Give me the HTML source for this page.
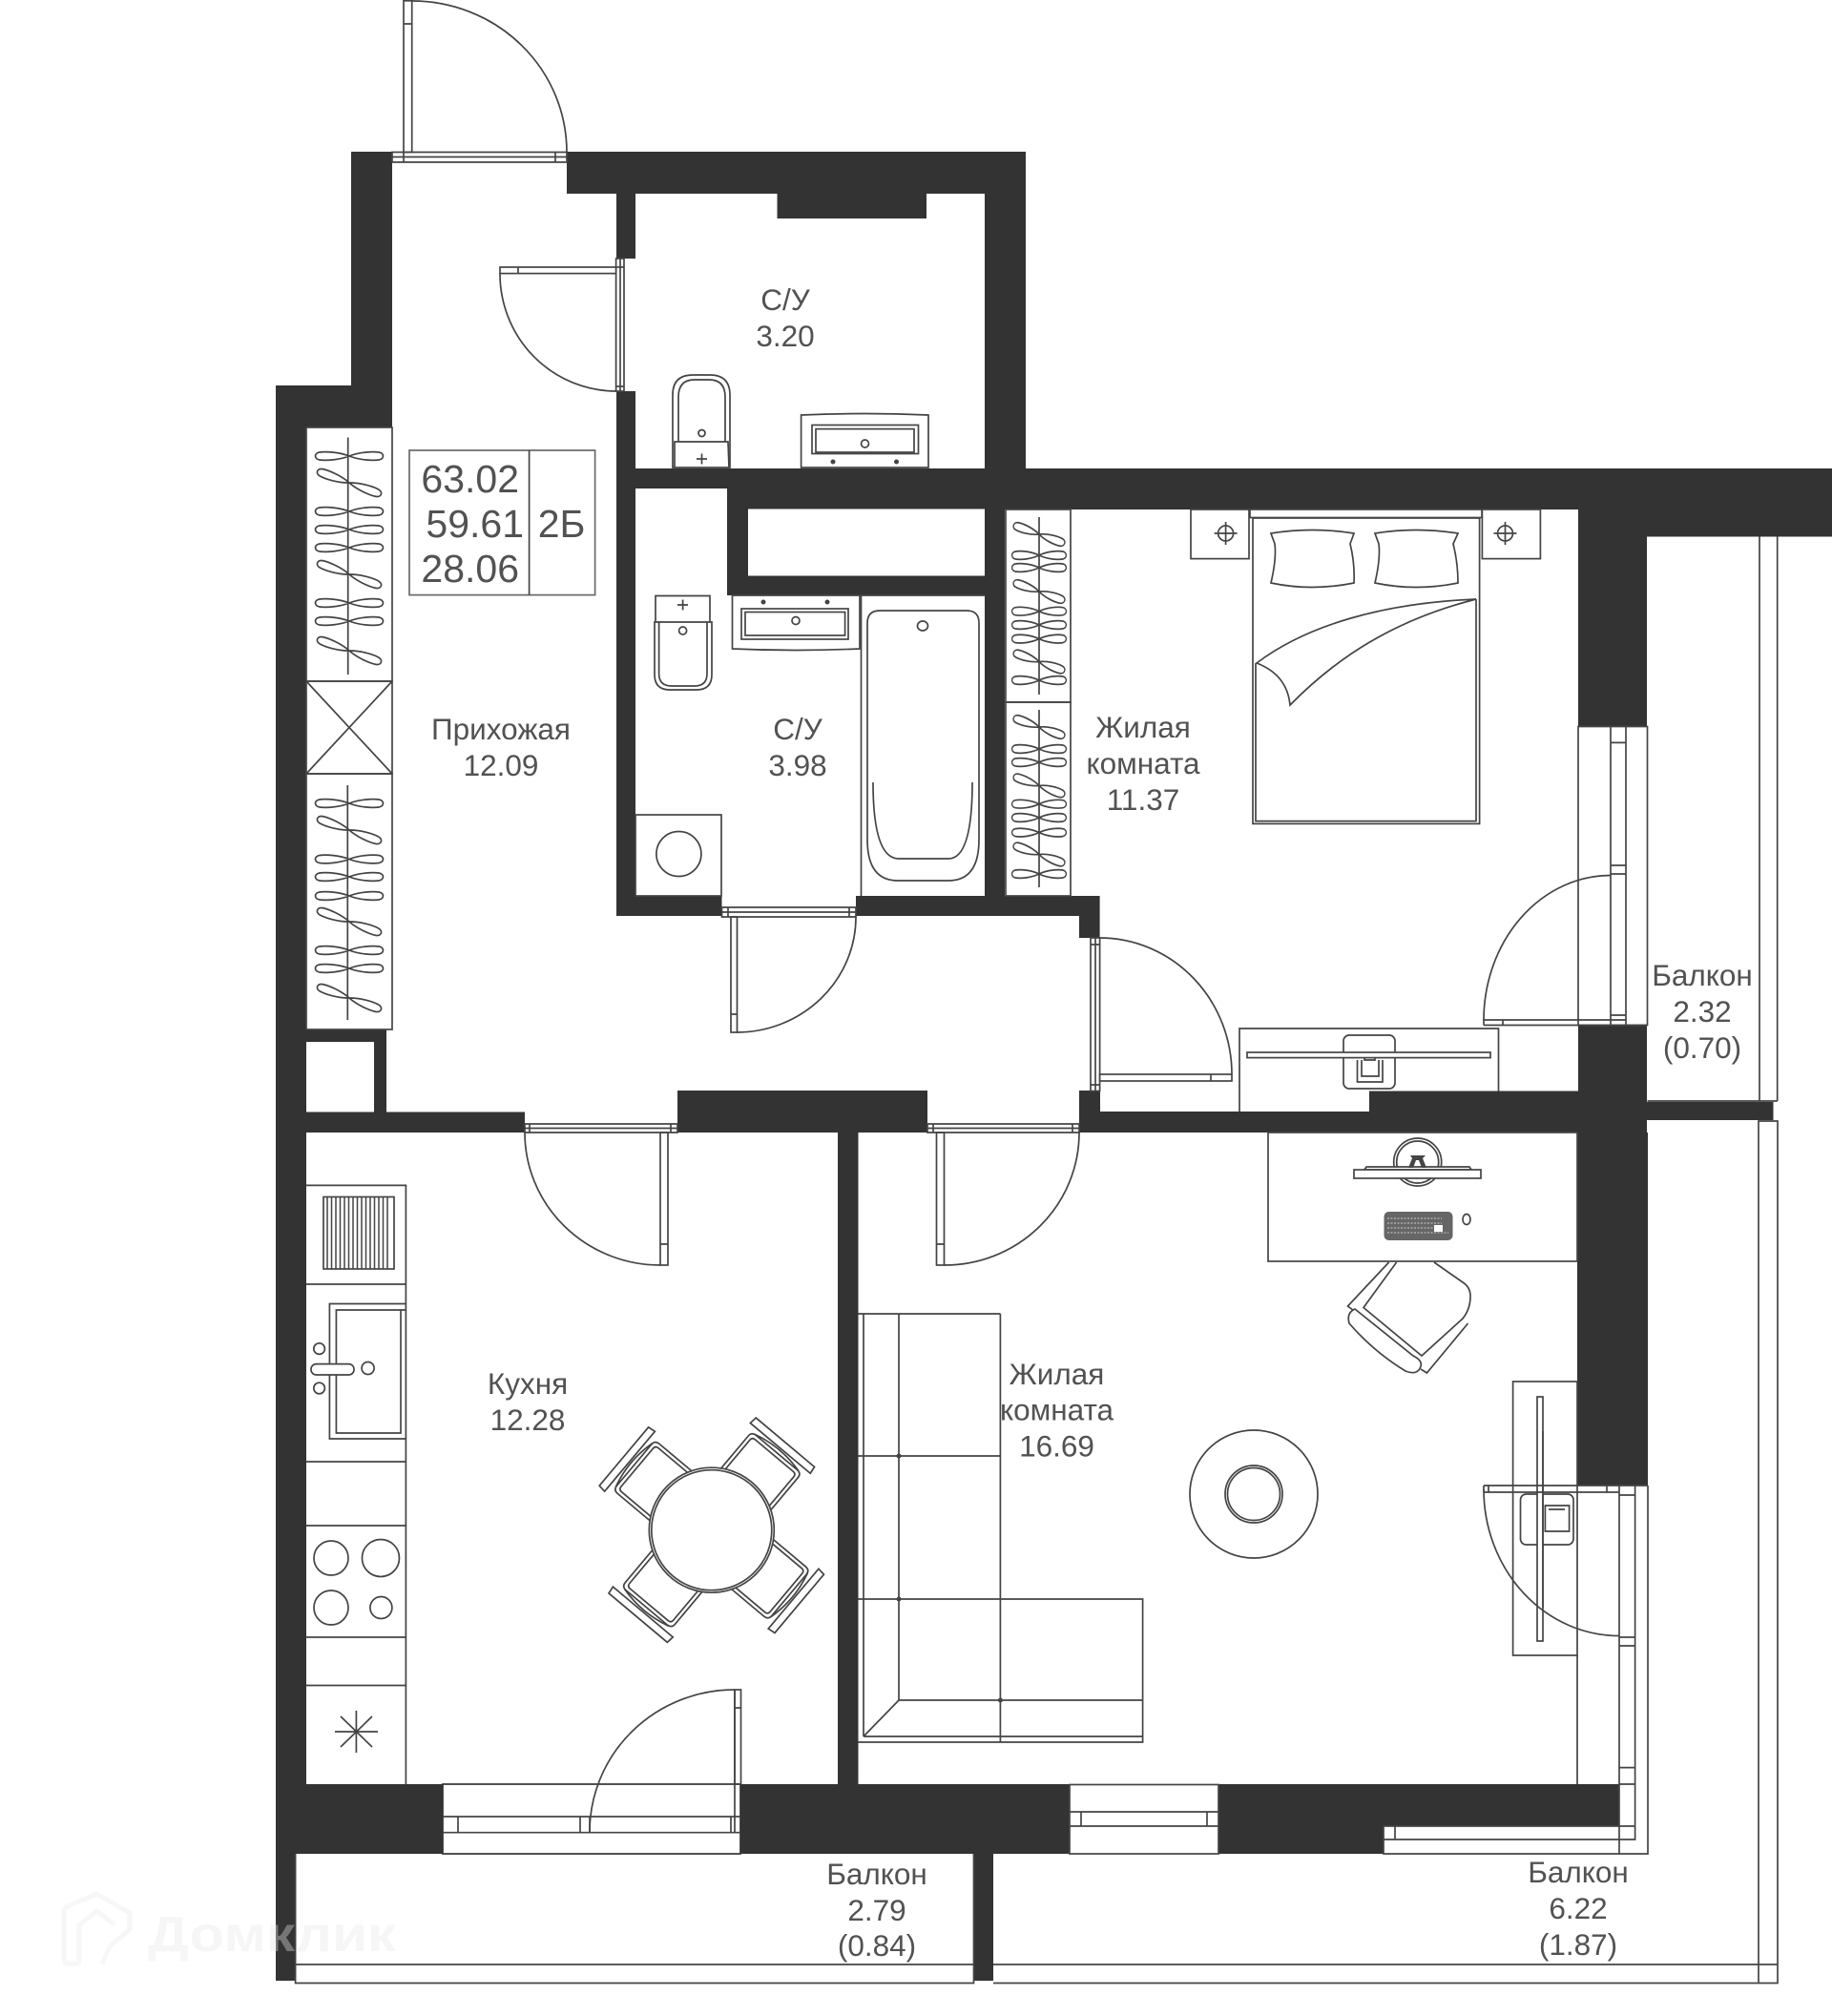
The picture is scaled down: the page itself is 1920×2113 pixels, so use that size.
<!DOCTYPE html>
<html><head><meta charset="utf-8"><title>План квартиры</title>
<style>
html,body{margin:0;padding:0;background:#fff}
svg{display:block}
text{font-family:"Liberation Sans","Noto Sans CJK SC",sans-serif;fill:#525252;text-anchor:middle;font-size:31.5px}
.w{fill:#333;stroke:none}
.l{fill:none;stroke:#444;stroke-width:1.7}
.f{fill:#fff;stroke:#444;stroke-width:1.7}
</style></head><body>
<svg width="1920" height="2113" viewBox="0 0 1920 2113" xmlns="http://www.w3.org/2000/svg">
<defs>
<path id="h" d="M0 0C-10-4-24-5-31-4C-37-3-37 3-31 4C-24 5-10 4 0 0C10-4 24-5 31-4C37-3 37 3 31 4C24 5 10 4 0 0Z" fill="none" stroke="#444" stroke-width="1.700"/>
<g id="chair">
<path class="f" d="M-34 -40V-100Q-34 -106 -28 -106H28Q34 -106 34 -100V-40Z"/>
<path class="l" d="M-30 -40V-98Q-30 -102 -26 -102H26Q30 -102 30 -98V-40"/>
<path class="f" d="M-41 -112L41 -112L40 -120L-40 -120Z"/>
<path class="l" d="M-30 -106Q0 -114 30 -106"/>
</g>
<g id="crossh"><circle r="8" class="l"/><path class="l" d="M-12 0H12M0-12V12"/></g>
</defs>
<rect width="1920" height="2113" fill="#fff"/>

<!-- walls -->
<g class="w">
<path d="M368 159H411V448H321V1079H289V404H368Z"/>
<path d="M594 159H1075V491H1032V203H971V229H814.500V203H666V271H646V203H594Z"/>
<rect x="646" y="410" width="20" height="550"/>
<rect x="646" y="491" width="1274" height="21"/>
<path fill-rule="evenodd" d="M762 512H1920V534H1053V624H762ZM784 533.500V603.500H1032V533.500Z"/>
<rect x="1032" y="534" width="21" height="425"/>
<rect x="1654" y="534" width="72" height="227.500"/>
<rect x="1654" y="534" width="266" height="28.500"/>
<rect x="646" y="939" width="110.500" height="21"/>
<path d="M897 939H1152.600V983H1131V960H897Z"/>
<rect x="1654" y="1074.500" width="72" height="69"/>
<path d="M1435 1143.500H1726V1155H1858.500V1174H1726V1187H1132V1143.500H1153V1165H1435Z"/>
<rect x="1131" y="1143" width="21.600" height="44"/>
<path d="M289 1079H405V1165.500H550V1187H321V1870H464V1943H310V2076H289ZM321 1092V1165.500H392V1092Z" fill-rule="evenodd"/>
<path d="M710 1143H972V1187H899.500V1870H1121V1943H1041V2076H1020.500V1943H776V1870H878V1187H710Z"/>
<path d="M1277 1870H1653V1187H1727V1557H1653V1870H1697V1914H1450V1943H1277Z"/>
</g>

<!-- Entrance door -->
<path class="l" d="M411 159.500H594V170H411ZM411 164.500H594M423 159.500V170M582 159.500V170"/>
<rect x="423" y="0.800" width="8.700" height="158.700" class="l"/>
<path class="l" d="M423 25H431.700M431.700 1A162 158.500 0 0 1 594 159.500"/>

<!-- WC upper door -->
<rect x="645.600" y="271" width="8.400" height="139" class="f"/>
<path class="l" d="M650 271V410M645.600 280H654M645.600 405H654"/>
<rect x="524" y="280" width="121.600" height="6.600" class="f"/>
<path class="l" d="M543 280V286.600M524 286.600A122 123 0 0 0 645.600 410"/>

<!-- WC upper fixtures -->
<path class="f" d="M705 490V414Q705 393 726 393H744Q765 393 765 414V490Z"/>
<path class="l" d="M711 463V416Q711 398 728 398H743Q760 398 760 416V463M707 490V463H763L764 490"/>
<circle cx="735.500" cy="454" r="3.500" class="l"/><path class="l" d="M730 481H741M735.500 475.500V486.500"/>
<path class="f" d="M839.600 490V435Q906 432 973 435V490Z"/>
<rect x="851" y="445.500" width="111.500" height="30" class="l"/><rect x="855" y="449.600" width="103" height="24.400" class="l"/>
<circle cx="906.500" cy="465" r="4" class="l"/><circle cx="873" cy="484" r="2.500" fill="#444"/><circle cx="939.500" cy="484" r="2.500" fill="#444"/>

<!-- Info table -->
<rect x="429" y="472" width="194.600" height="151.600" class="l" stroke-opacity=".8"/><path class="l" d="M554.600 472V623.600"/>
<text x="544" y="516" style="text-anchor:end;font-size:41px">63.02</text>
<text x="549" y="563" style="text-anchor:end;font-size:41px">59.61</text>
<text x="544" y="610" style="text-anchor:end;font-size:41px">28.06</text>
<text x="588.600" y="563" style="font-size:41px">2Б</text>

<!-- Left wardrobes -->
<rect x="321" y="448" width="90" height="266" class="l"/>
<rect x="321" y="714" width="90" height="97" class="l"/>
<path class="l" d="M321 714L411 811M411 714L321 811"/>
<rect x="321" y="811" width="90" height="268" class="l"/>
<path class="l" d="M364.700 458.500V707M364.300 823V1069"/>
<use href="#h" transform="translate(366 478)"/><use href="#h" transform="translate(366 506) rotate(20)"/><use href="#h" transform="translate(366 536)"/><use href="#h" transform="translate(366 555)"/><use href="#h" transform="translate(366 574)"/><use href="#h" transform="translate(366 602) rotate(20)"/><use href="#h" transform="translate(366 632)"/><use href="#h" transform="translate(366 651)"/><use href="#h" transform="translate(366 682) rotate(20)"/>
<use href="#h" transform="translate(366 842)"/><use href="#h" transform="translate(366 870) rotate(20)"/><use href="#h" transform="translate(366 900.500)"/><use href="#h" transform="translate(366 919)"/><use href="#h" transform="translate(366 939)"/><use href="#h" transform="translate(366 966) rotate(20)"/><use href="#h" transform="translate(366 996)"/><use href="#h" transform="translate(366 1015)"/><use href="#h" transform="translate(366 1046) rotate(20)"/>

<!-- Right wardrobes -->
<rect x="1054" y="534" width="68" height="202" class="l"/>
<rect x="1054" y="736" width="68" height="203" class="l"/>
<path class="l" d="M1089 542V728M1089 744V930"/>
<g>
<use href="#h" transform="translate(1089 560) rotate(20) scale(.8 1)"/><use href="#h" transform="translate(1089 582) scale(.8 1)"/><use href="#h" transform="translate(1089 595) scale(.8 1)"/><use href="#h" transform="translate(1089 620) rotate(20) scale(.8 1)"/><use href="#h" transform="translate(1089 640.700) scale(.8 1)"/><use href="#h" transform="translate(1089 655) scale(.8 1)"/><use href="#h" transform="translate(1089 669.600) scale(.8 1)"/><use href="#h" transform="translate(1089 693.500) rotate(20) scale(.8 1)"/><use href="#h" transform="translate(1089 713) scale(.8 1)"/>
<use href="#h" transform="translate(1089 762) rotate(20) scale(.8 1)"/><use href="#h" transform="translate(1089 785) scale(.8 1)"/><use href="#h" transform="translate(1089 799) scale(.8 1)"/><use href="#h" transform="translate(1089 823.400) rotate(20) scale(.8 1)"/><use href="#h" transform="translate(1089 842.700) scale(.8 1)"/><use href="#h" transform="translate(1089 857) scale(.8 1)"/><use href="#h" transform="translate(1089 872.600) scale(.8 1)"/><use href="#h" transform="translate(1089 895.500) rotate(20) scale(.8 1)"/><use href="#h" transform="translate(1089 916) scale(.8 1)"/>
</g>

<!-- WC lower fixtures -->
<path class="f" d="M687 652V624.500H744V652"/>
<path class="f" d="M686 652H746V707Q746 723 730 723H702Q686 723 686 707Z"/>
<path class="l" d="M690.600 652V706Q690.600 719 704 719H728Q741 719 741 706V652"/>
<circle cx="715.600" cy="661" r="4" class="l"/><path class="l" d="M710 634H721M715.600 628.500V639.500"/>
<path class="f" d="M767.500 624H901V680Q834 683 767.500 680Z"/>
<rect x="777" y="638" width="112" height="32" class="l"/><rect x="781" y="641.500" width="104.600" height="24.500" class="l"/>
<circle cx="834" cy="650.500" r="4" class="l"/><circle cx="800" cy="631" r="2.500" fill="#444"/><circle cx="867" cy="631" r="2.500" fill="#444"/>
<rect x="666" y="854" width="90" height="85" class="l"/><circle cx="711.400" cy="895" r="23.500" class="l"/>
<!-- bath -->
<path class="l" d="M902.500 624V939M1032 624H902.500"/>
<path class="l" d="M909 653Q909 640 922 640H1013Q1026 640 1026 653V880Q1026 923 994 923H941Q909 923 909 880Z"/>
<path class="l" d="M915 820Q915 900 942 900H994Q1019 900 1019 820"/>
<ellipse cx="967" cy="656" rx="5.500" ry="5" class="l"/>

<!-- WC lower door -->
<path class="l" d="M756.500 951H897V961H756.500ZM756.500 956H897M763 951V961M890 951V961"/>
<rect x="766" y="961" width="6.500" height="121" class="l"/>
<path class="l" d="M766 1063H772.500M772.500 1082A125 121 0 0 0 897 961"/>

<!-- Hall to kitchen door -->
<path class="l" d="M550 1178H710V1187H550ZM550 1182.500H710M555 1178V1187M703 1178V1187"/>
<rect x="692" y="1187" width="8" height="139" class="l"/>
<path class="l" d="M692 1304H700M692 1326A142 139 0 0 1 550 1187"/>

<!-- Room door -->
<path class="l" d="M972 1178H1131V1187H972ZM972 1182.500H1131M978 1178V1187M1124 1178V1187"/>
<rect x="981.500" y="1187" width="8" height="139" class="l"/>
<path class="l" d="M981.500 1304H989.400M989.400 1326A141 139 0 0 0 1131 1187"/>

<!-- Bedroom door -->
<rect x="1143" y="983" width="9.600" height="160.500" class="f"/>
<path class="l" d="M1148 983V1143.500M1143 990H1152.600M1143 1137H1152.600"/>
<rect x="1152.600" y="1126" width="138.400" height="7" class="f"/>
<path class="l" d="M1269 1126V1133M1152.600 983A138.400 143 0 0 1 1291 1126"/>

<!-- Bed -->
<rect x="1248" y="534" width="61" height="51.600" class="l"/><rect x="1553.400" y="534" width="61" height="51.600" class="l"/>
<use href="#crossh" transform="translate(1284.600 559)"/><use href="#crossh" transform="translate(1577.500 559)"/>
<rect x="1310" y="534" width="243" height="8.500" class="l"/>
<rect x="1313" y="543" width="237.600" height="320.400" class="l"/>
<path class="l" d="M1316 695V860.600H1547V628"/>
<path class="l" d="M1547 628C1450 632 1370 655 1317 695C1338 703 1350 718 1352 739C1400 690 1460 650 1547 628Z"/>
<path class="l" d="M1332 559Q1375 552 1419 559L1415 570Q1420 590 1419 611Q1375 620 1332 611Q1338 585 1336 570Z"/>
<path class="l" d="M1441 559Q1484 552 1528 559L1523 570Q1528 590 1528 611Q1484 620 1441 611Q1447 585 1445 570Z"/>

<!-- Bedroom desk -->
<path class="l" d="M1299 1165V1078H1570.500V1143.500"/>
<rect x="1408" y="1085" width="54" height="56" rx="6" fill="none" stroke="#444" stroke-width="1.700"/>
<path class="l" d="M1422.500 1111V1134H1449V1111M1427 1111V1128H1445V1111M1430 1108V1111H1441V1108"/>
<rect x="1307" y="1103" width="255" height="5.600" class="f"/>

<!-- Balcony top & window -->
<rect x="1654" y="761.500" width="72.500" height="313" fill="#fff" stroke="#444" stroke-width="1.700"/>
<path class="l" d="M1688 761.500V1074.500M1704 761.500V1074.500M1688 778.400H1704M1688 907H1704M1688 916H1704M1688 1064H1704"/>
<path class="l" d="M1555 1074.500V1069H1704M1555 1074.500H1726M1575 1069V1074.500"/>
<path class="l" d="M1555 1069A133 152 0 0 1 1688 917.500"/>
<path class="l" d="M1844 562.500V1154M1862.700 562.500V1154M1726.500 1154H1862.700"/>

<!-- Desk room -->
<rect x="1329" y="1187" width="324" height="135" class="l"/>
<circle cx="1485.700" cy="1218" r="25" class="l"/><circle cx="1485.700" cy="1218" r="22" class="l"/>
<path class="f" d="M1430 1226L1432 1223H1540L1542 1226Z"/>
<rect x="1419" y="1226" width="133" height="9" class="f"/>
<path d="M1478 1211H1494L1491 1214L1495 1224H1490L1487 1216H1484L1481 1224H1476L1480 1214Z" fill="#444"/>
<rect x="1450.500" y="1270" width="72" height="30" rx="5" fill="#666"/>
<path d="M1454 1277H1511M1454 1282H1511M1454 1287H1502M1454 1292H1518" stroke="#ccc" stroke-width="1" stroke-dasharray="2 1.500"/>
<rect x="1503" y="1284" width="9" height="7" fill="#fff"/>
<ellipse cx="1537" cy="1278" rx="4" ry="5.500" class="l"/>

<!-- Chair -->
<path class="l" d="M1463.600 1323L1429 1370.500L1490 1421L1533 1382Q1541 1372 1541 1358.600Q1541 1349 1533 1344L1503 1323"/>
<path class="l" d="M1455.600 1323L1412.500 1369L1418.500 1373.500M1538.500 1387L1495.400 1439L1489 1435"/>
<path class="f" d="M1420 1372L1481 1421Q1491 1426 1489 1432Q1486 1442 1473 1437Q1440 1417 1414 1387Q1411 1376 1420 1372Z"/>

<!-- Coffee table -->
<circle cx="1314" cy="1566" r="67" class="l"/><circle cx="1314" cy="1566" r="30" class="l"/><circle cx="1314" cy="1566" r="27.500" class="l"/>

<!-- TV stand -->
<rect x="1585.600" y="1448" width="67.400" height="287" class="l"/>
<rect x="1593.500" y="1566" width="55.500" height="53" rx="6" class="l"/>
<path class="l" d="M1619.400 1578H1644.600V1605H1619.400ZM1623 1582H1640"/>
<rect x="1611" y="1464" width="6" height="256" class="f"/>
<path class="l" d="M1617 1500V1685"/>

<!-- Right big window/door -->
<path class="l" d="M1653 1735V1870M1697 1557V1943M1713.600 1557V1928H1450M1727 1557V1943H1450V1914M1450 1928H1697M1450 1914H1697M1462 1914V1928M1697 1567H1713.600M1697 1716H1713.600M1697 1725H1713.600M1697 1852.600H1713.600M1697 1870H1713.600M1697 1914H1713.600M1555 1557H1727M1555 1564H1697M1560 1557V1564M1684 1557V1564M1555 1557V1564"/>
<path class="l" d="M1555 1561A142 153.500 0 0 0 1697 1714.500"/>

<!-- Window in room -->
<rect x="1121" y="1870.500" width="156" height="72.500" class="f"/>
<path class="l" d="M1121 1899H1277M1121 1914H1277M1133 1899V1914M1265 1899V1914"/>

<!-- Sofa -->
<path class="l" d="M899 1377H1048.400M905 1377V1820M942 1377V1782M1048.400 1377V1676M905 1526H1048.400M899 1526H905M905 1676H1197.600V1826H899M942 1782H1197.600M905 1820H1197.600M942 1782L905 1820M1048.400 1676V1826M899 1676H905"/>
<circle cx="942" cy="1526" r="2.500" fill="#444"/><circle cx="942" cy="1676" r="2.500" fill="#444"/><circle cx="1048.400" cy="1782" r="2.500" fill="#444"/>

<!-- Kitchen furniture -->
<path class="l" d="M321 1242.400H425.400V1870M321 1346H425.400M321 1532H425.400M321 1599H425.400M321 1716H425.400M321 1766.500H425.400"/>
<rect x="339" y="1254.500" width="74" height="75.500" class="l"/>
<g stroke="#444" stroke-width="1.500">
<path d="M343 1255V1330M347.500 1255V1330M352 1255V1330M356.500 1255V1330M361 1255V1330M365.500 1255V1330M370 1255V1330M374.500 1255V1330M379 1255V1330M383.500 1255V1330M388 1255V1330M392.500 1255V1330M397 1255V1330M401.500 1255V1330M406 1255V1330"/>
</g>
<path class="l" d="M425.400 1366.500H345.400V1508H425.400M425 1373H352.400V1502H420V1373"/>
<rect x="326" y="1429.600" width="45" height="11.400" rx="5.500" class="f"/>
<circle cx="334.600" cy="1413.600" r="5.800" class="l"/><circle cx="334.600" cy="1455" r="5.800" class="l"/><circle cx="385.600" cy="1434" r="6.500" class="l"/>
<circle cx="347" cy="1633" r="18" class="l"/><circle cx="399" cy="1633" r="19.500" class="l"/><circle cx="347" cy="1685" r="18" class="l"/><circle cx="399.400" cy="1685" r="11.500" class="l"/>
<path class="l" d="M351 1815H396M373.400 1793V1837M357 1799L390 1831M390 1799L357 1831"/>

<!-- Table -->
<use href="#chair" transform="translate(745.800 1603.700) rotate(40)"/>
<use href="#chair" transform="translate(745.800 1603.700) rotate(130)"/>
<use href="#chair" transform="translate(745.800 1603.700) rotate(220)"/>
<use href="#chair" transform="translate(745.800 1603.700) rotate(310)"/>
<circle cx="745.800" cy="1603.700" r="65.500" class="f"/><circle cx="745.800" cy="1603.700" r="63" class="l"/>

<!-- Kitchen door -->
<rect x="464" y="1870" width="312" height="73" fill="#fff" stroke="#333" stroke-width="1.700"/>
<path class="l" d="M464 1904H776M464 1920.700H776M480 1904V1920.700M608 1904V1920.700M618 1904V1920.700M766 1904V1920.700M770 1771V1920.700"/>
<rect x="770" y="1771" width="6.500" height="99" class="l"/>
<path class="l" d="M770 1790H776.500M770 1771A152 149 0 0 0 618 1920"/>

<!-- Balconies -->
<path class="l" d="M309.600 1943V2078.500H1020.500V1943M309.600 2059H1020.500"/>
<path class="l" d="M1041 2059H1863M1041 2078.500H1863V1175H1843V2078.500"/>

<!-- Labels -->
<text x="823" y="325">С/У</text><text x="823" y="363">3.20</text>
<text x="525" y="775">Прихожая</text><text x="525" y="813">12.09</text>
<text x="836" y="775">С/У</text><text x="836" y="813">3.98</text>
<text x="1198" y="773">Жилая</text><text x="1198" y="811">комната</text><text x="1198" y="849">11.37</text>
<text x="1784" y="1033">Балкон</text><text x="1784" y="1071">2.32</text><text x="1784" y="1109">(0.70)</text>
<text x="553" y="1461">Кухня</text><text x="553" y="1499">12.28</text>
<text x="1107.500" y="1451">Жилая</text><text x="1107.500" y="1488.500">комната</text><text x="1107.500" y="1526.500">16.69</text>
<text x="919" y="1975">Балкон</text><text x="919" y="2013">2.79</text><text x="919" y="2050">(0.84)</text>
<text x="1654" y="1973">Балкон</text><text x="1654" y="2011">6.22</text><text x="1654" y="2049">(1.87)</text>

<!-- Watermark -->
<g opacity=".37">
<path d="M67 2000L101 1985L136 2005V2022L115 2040L107 2058M83 2058H71Q67 2058 67 2052V2000M83 2058V2018L101 2003L120 2017" fill="none" stroke="#e9e9e9" stroke-width="5"/>
<text x="285" y="2045" textLength="260" lengthAdjust="spacingAndGlyphs" style="fill:#e9e9e9;font-size:52px;font-weight:bold">Домклик</text>
</g>
</svg>
</body></html>
